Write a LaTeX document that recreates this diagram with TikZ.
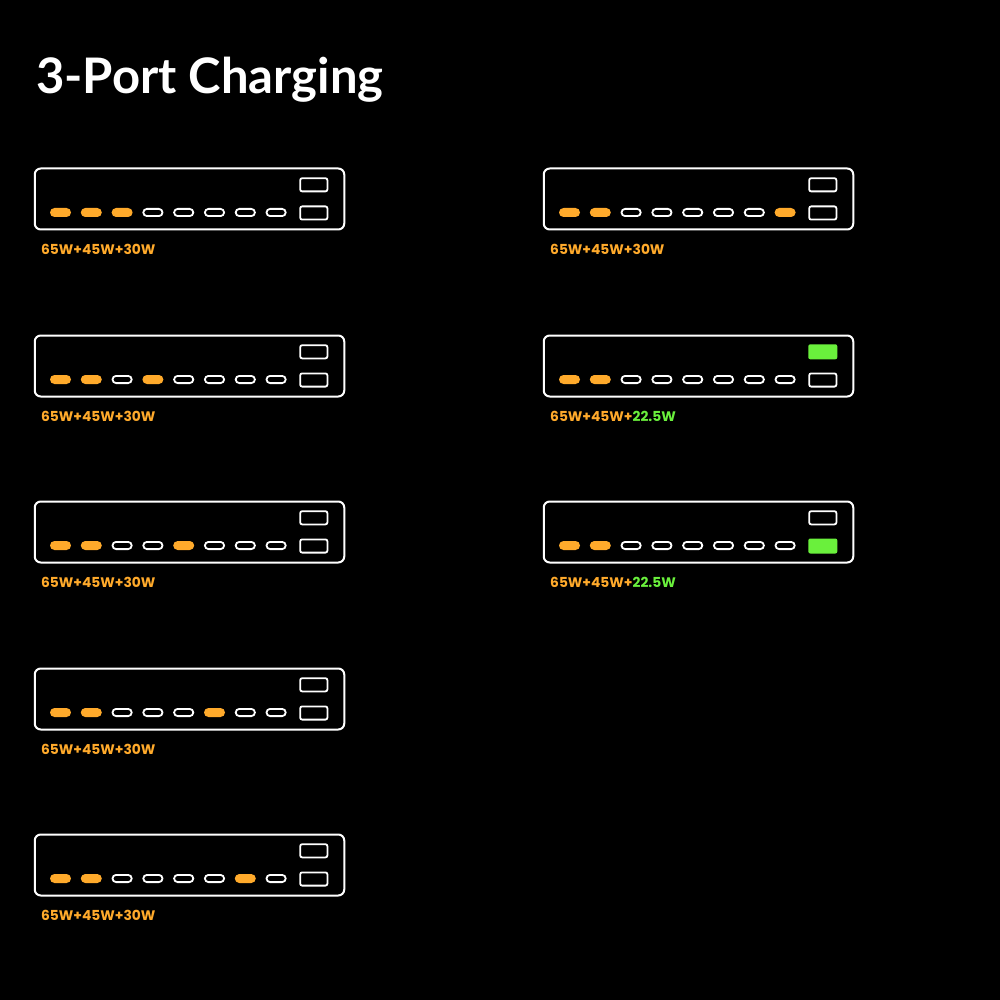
\documentclass[tikz,border=0pt]{standalone}
\usepackage{fontspec}
\setmainfont{Poppins}
\newfontfamily\titlefont{Lato}
\usetikzlibrary{shapes.misc}
\definecolor{porange}{HTML}{FFAA2B}
\definecolor{pgreen}{HTML}{6AF03C}
\begin{document}
\begin{tikzpicture}[x=1pt,y=-1pt,
  device/.style={draw=white, line width=2pt, rounded corners=6pt, minimum width=309.5pt, minimum height=61pt, inner sep=0pt},
  cpoff/.style={rounded rectangle, draw=white, line width=1.8pt, minimum width=19.2pt, minimum height=7.2pt, inner sep=0pt},
  cpon/.style={rounded rectangle, fill=porange, minimum width=21pt, minimum height=9pt, inner sep=0pt},
  apoff/.style={draw=white, line width=1.8pt, rounded corners=2pt, minimum width=27.2pt, minimum height=13.2pt, inner sep=0pt},
  apon/.style={fill=pgreen, rounded corners=2pt, minimum width=29pt, minimum height=15pt, inner sep=0pt},
  lbl/.style={text=porange, font=\bfseries\fontsize{13.8}{16}\selectfont, inner sep=0pt, anchor=base west},
  ttl/.style={text=white, font=\titlefont\bfseries\fontsize{49}{56}\selectfont, inner sep=0pt, anchor=base west}]
\fill[black] (0,0) rectangle (1000,1000);
\node[ttl] (title) at (36,94) {3-Port Charging};
\foreach \n/\cx/\cy/\ports/\at/\ab/\txt in {
  1/0/0/{cpon,cpon,cpon,cpoff,cpoff,cpoff,cpoff,cpoff}/apoff/apoff/{65W+45W+30W},
  2/0/167/{cpon,cpon,cpoff,cpon,cpoff,cpoff,cpoff,cpoff}/apoff/apoff/{65W+45W+30W},
  3/0/333/{cpon,cpon,cpoff,cpoff,cpon,cpoff,cpoff,cpoff}/apoff/apoff/{65W+45W+30W},
  4/0/500/{cpon,cpon,cpoff,cpoff,cpoff,cpon,cpoff,cpoff}/apoff/apoff/{65W+45W+30W},
  5/0/666/{cpon,cpon,cpoff,cpoff,cpoff,cpoff,cpon,cpoff}/apoff/apoff/{65W+45W+30W},
  6/509/0/{cpon,cpon,cpoff,cpoff,cpoff,cpoff,cpoff,cpon}/apoff/apoff/{65W+45W+30W},
  7/509/167/{cpon,cpon,cpoff,cpoff,cpoff,cpoff,cpoff,cpoff}/apon/apoff/{65W+45W+\textcolor{pgreen}{22.5W}},
  8/509/333/{cpon,cpon,cpoff,cpoff,cpoff,cpoff,cpoff,cpoff}/apoff/apon/{65W+45W+\textcolor{pgreen}{22.5W}}}
{
  \node[device] (d\n) at (\cx+189.5,\cy+199) {};
  \foreach \s [count=\i] in \ports {
    \node[\s] (d\n-c\i) at ({\cx+29.7+30.8*\i},\cy+212.5) {};
  }
  \node[\at] (d\n-a1) at (\cx+313.8,\cy+184.8) {};
  \node[\ab] (d\n-a2) at (\cx+313.8,\cy+213) {};
  \node[lbl] (l\n) at (\cx+41,\cy+254.5) {\txt};
}
\end{tikzpicture}
\end{document}
